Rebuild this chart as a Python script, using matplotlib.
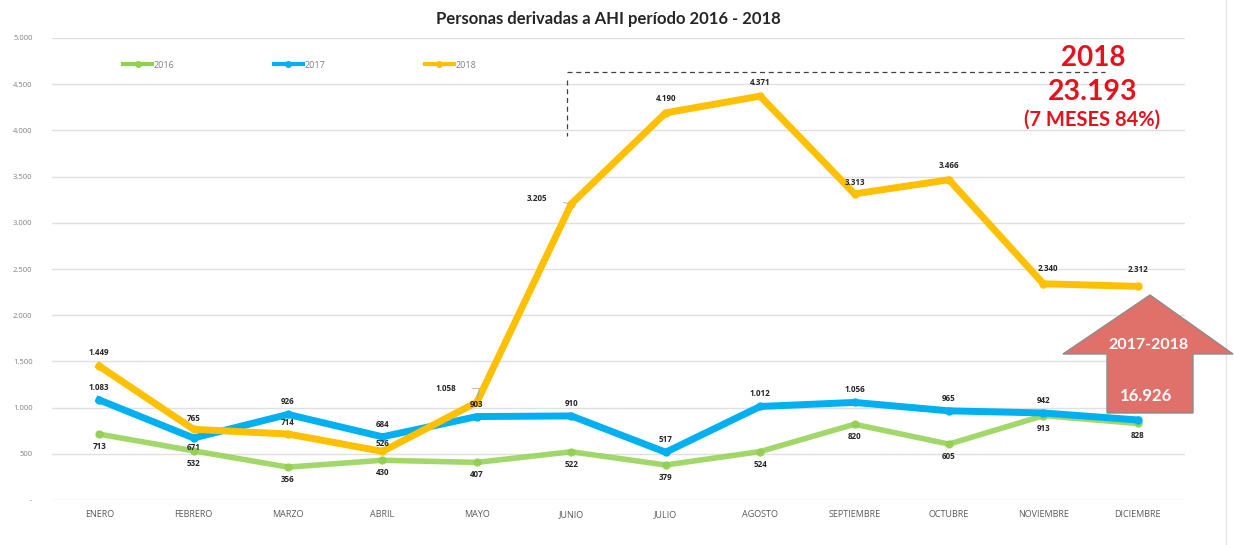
import matplotlib
matplotlib.use("Agg")
import matplotlib.pyplot as plt
from matplotlib.patches import Polygon
from matplotlib.lines import Line2D

months = ["ENERO", "FEBRERO", "MARZO", "ABRIL", "MAYO", "JUNIO", "JULIO",
          "AGOSTO", "SEPTIEMBRE", "OCTUBRE", "NOVIEMBRE", "DICIEMBRE"]
v2016 = [713, 532, 356, 430, 407, 522, 379, 524, 820, 605, 913, 828]
v2017 = [1083, 671, 926, 684, 903, 910, 517, 1012, 1056, 965, 942, 866]
v2018 = [1449, 765, 714, 526, 1058, 3205, 4190, 4371, 3313, 3466, 2340, 2312]
yticks = [0, 500, 1000, 1500, 2000, 2500, 3000, 3500, 4000, 4500, 5000]

plt.rcParams['font.family'] = ['Lato', 'DejaVu Sans']
SMALL = ['Open Sans', 'DejaVu Sans']

W, H = 1234, 545
fig = plt.figure(figsize=(W / 100, H / 100), dpi=100)
fig.patch.set_facecolor("white")

def fx(x):
    return x / W

def fy(y):
    return 1 - y / H

ax = fig.add_axes([fx(52), fy(500), fx(1185) - fx(52), fy(38) - fy(500)])
x = list(range(len(months)))

c16, c17, c18 = "#92D050", "#00B0F0", "#FFC000"
ax.plot(x, v2016, color=c16, lw=4, alpha=0.85, marker="o", ms=5, zorder=3, solid_joinstyle="round")
ax.plot(x, v2017, color=c17, lw=5, marker="o", ms=5, zorder=4, solid_joinstyle="round")
ax.plot(x, v2018, color=c18, lw=5, marker="o", ms=5, zorder=5, solid_joinstyle="round")

def fmt(v):
    return f"{v:,}".replace(",", ".")

ax.set_xlim(-0.5, len(months) - 0.5)
ax.set_ylim(0, 5000)
ax.set_yticks(yticks)
ax.set_yticklabels(["-" if v == 0 else fmt(v) for v in yticks],
                   fontsize=5.5, color="#808080", family=SMALL)
ax.set_xticks(x)
ax.set_xticklabels(months, fontsize=6.5, color="#595959", family=SMALL)
ax.tick_params(length=0, pad=7)
ax.tick_params(axis="y", pad=14)
ax.grid(axis="y", color="#E0E0E0", lw=1)
ax.set_axisbelow(True)
for s in ax.spines.values():
    s.set_visible(False)

lab = dict(fontsize=5.8, fontweight="bold", color="#262626", ha="center", va="center",
           textcoords="offset points", zorder=10, family=SMALL)

# 2016 labels below
for i, v in enumerate(v2016):
    ax.annotate(fmt(v), (i, v), xytext=(0, -9), **lab)

# 2017 labels
off17 = {1: (0, -7)}
for i, v in enumerate(v2017):
    if i == 11:
        continue
    ax.annotate(fmt(v), (i, v), xytext=off17.get(i, (0, 9)), **lab)

# 2018 labels
off18 = {0: (0, 10), 1: (0, 8), 2: (0, 8), 3: (0, 6), 8: (0, 8), 9: (0, 10),
         10: (3, 11), 11: (0, 12), 6: (0, 10), 7: (0, 10)}
for i, v in enumerate(v2018):
    if i == 4:
        ax.annotate(fmt(v), (i, v), xytext=(-22, 10),
                    arrowprops=dict(arrowstyle="-", color="#A6A6A6", lw=0.6,
                                    connectionstyle="angle,angleA=0,angleB=80,rad=0",
                                    shrinkA=9, shrinkB=2), **lab)
    elif i == 5:
        ax.annotate(fmt(v), (i, v), xytext=(-25, 4),
                    arrowprops=dict(arrowstyle="-", color="#A6A6A6", lw=0.6,
                                    shrinkA=10, shrinkB=2), **lab)
    else:
        ax.annotate(fmt(v), (i, v), xytext=off18.get(i, (0, 9)), **lab)

# legend
handles = [Line2D([], [], color=c, lw=3, marker="o", ms=4) for c in (c16, c17, c18)]
leg = fig.legend(handles, ["2016", "2017", "2018"], loc="center left",
                 bbox_to_anchor=(fx(115), fy(65)), ncol=3, frameon=False,
                 prop=dict(family=SMALL, size=6.5), labelcolor="#808080", columnspacing=11,
                 handlelength=3.2, handletextpad=0.2)

# title
fig.text(fx(608), fy(19), "Personas derivadas a AHI período 2016 - 2018",
         ha="center", va="center", fontsize=12, fontweight="bold", color="#262626")

# dashed bracket
fig.add_artist(Line2D([fx(567), fx(1105)], [fy(72), fy(72)], color="#404040",
                      lw=0.9, ls=(0, (4, 3))))
fig.add_artist(Line2D([fx(567), fx(567)], [fy(80), fy(136)], color="#404040",
                      lw=0.9, ls=(0, (4, 3))))

red = "#E8101C"
fig.text(fx(1093), fy(58), "2018", ha="center", va="center", fontsize=20,
         fontweight="bold", color=red)
fig.text(fx(1093), fy(92), "23.193", ha="center", va="center", fontsize=20.5,
         fontweight="bold", color=red)
fig.text(fx(1092), fy(120), "(7 MESES 84%)", ha="center", va="center", fontsize=14.5,
         fontweight="bold", color=red)

# block arrow
pts = [(1150, 295), (1233, 354), (1193, 354), (1193, 413), (1107, 413),
       (1107, 354), (1063, 354)]
arrow = Polygon([(fx(px), fy(py)) for px, py in pts], closed=True,
                transform=fig.transFigure, facecolor="#E0706A", edgecolor="#8C8C8C",
                lw=1, zorder=20)
fig.add_artist(arrow)
fig.text(fx(1148), fy(345), "2017-2018", ha="center", va="center", fontsize=11.5,
         fontweight="bold", color="white", zorder=21)
fig.text(fx(1146), fy(396), "16.926", ha="center", va="center", fontsize=12,
         fontweight="bold", color="white", zorder=21)

# right border line
fig.add_artist(Line2D([fx(1226), fx(1226)], [0, 1], color="#E6E6E6", lw=1))

fig.savefig("out.png", dpi=100, facecolor="white")
